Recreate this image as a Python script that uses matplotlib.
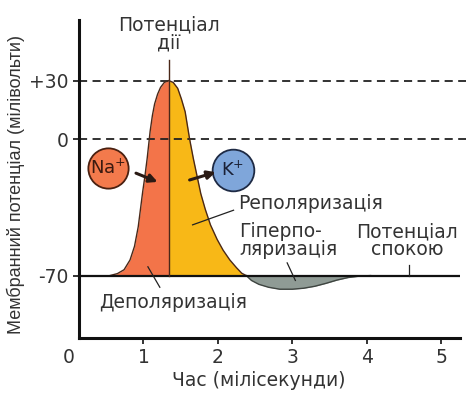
import matplotlib
matplotlib.use("Agg")
import matplotlib.pyplot as plt

plt.rcParams['font.family'] = ['DejaVu Sans']

# membrane potential (mV) vs time (ms), read along the action potential
rise_t = [0.55, 0.65, 0.74, 0.82, 0.88, 0.93, 0.96, 0.99, 1.02, 1.05, 1.09,
          1.12, 1.15, 1.19, 1.23, 1.28, 1.34]
rise_v = [-70, -69, -67, -62, -55, -45, -36, -27, -19, -10, 4,
          12, 18, 23, 26.5, 29, 30]
fall_t = [1.34, 1.40, 1.46, 1.51, 1.56, 1.59, 1.62, 1.67, 1.72, 1.77, 1.83,
          1.90, 1.99, 2.07, 2.16, 2.25, 2.32, 2.38]
fall_v = [30, 29, 26, 20.5, 14, 7, 0, -10, -19, -28, -36,
          -44, -51.5, -57, -62, -66, -68.8, -70]
hyper_t = [2.38, 2.45, 2.55, 2.68, 2.83, 3.00, 3.15, 3.30, 3.45, 3.60, 3.75,
           3.90, 4.05]
hyper_v = [-70, -72.5, -74.5, -76, -77, -77, -76.5, -75.5, -74, -72.3, -71,
           -70.3, -70]

rest_v = -70
peak_v = 30
peak_t = 1.34
x_ticks = [0, 1, 2, 3, 4, 5]
y_ticks = [-70, 0, 30]
y_ticklabels = ['-70', '0', '+30']

text_c = '#333333'
edge_c = '#4a2818'
fs = 13.5

fig = plt.figure(figsize=(4.66, 3.93), dpi=100)
ax = fig.add_axes([0.148, 0.14, 0.839, 0.809])
x0 = 0.13
ax.set_xlim(0, 5.25)
ax.set_ylim(-102, 61)

# dashed reference levels and resting line
ax.plot([x0, 5.35], [peak_v, peak_v], color='#222222', lw=1.3,
        ls=(0, (4.5, 3)), clip_on=False)
ax.plot([x0, 5.35], [0, 0], color='#222222', lw=1.3,
        ls=(0, (4.5, 3)), clip_on=False)

# phases of the action potential
ax.fill_between(rise_t, rise_v, rest_v, color='#f37449', lw=0)
ax.fill_between(fall_t, fall_v, rest_v, color='#f8b817', lw=0)
ax.fill_between(hyper_t, hyper_v, rest_v, color='#8f9b95', lw=0)
ax.plot(rise_t + fall_t[1:], rise_v + fall_v[1:], color=edge_c, lw=1.0)
ax.plot(hyper_t, hyper_v, color='#3e4440', lw=1.0)
ax.plot([x0, 5.25], [rest_v, rest_v], color='#111111', lw=1.6)
ax.plot([peak_t, peak_t], [rest_v, 40.5], color=edge_c, lw=1.0, clip_on=False)

# ion circles with arrows
ax.plot(0.52, -15, 'o', ms=29, mfc='#f37a4c', mec='#4a2010', mew=1.3)
ax.text(0.52, -15, 'Na$^{+}$', ha='center', va='center', fontsize=13,
        color='#3a1a10')
ax.plot(2.20, -16, 'o', ms=30, mfc='#7fa6da', mec='#1e2a44', mew=1.3)
ax.text(2.20, -16, 'K$^{+}$', ha='center', va='center', fontsize=13,
        color='#1a2035')
ax.annotate('', xy=(1.19, -22), xytext=(0.90, -17.5),
            arrowprops=dict(arrowstyle='-|>', color='#2a1a14', lw=2.2,
                            mutation_scale=12, shrinkA=0, shrinkB=0))
ax.annotate('', xy=(1.97, -17), xytext=(1.62, -21),
            arrowprops=dict(arrowstyle='-|>', color='#2a1a14', lw=2.2,
                            mutation_scale=12, shrinkA=0, shrinkB=0))

# labels with leader lines
ax.text(peak_t, 54, 'Потенціал\nдії', ha='center', va='center', fontsize=fs,
        color=text_c, linespacing=0.92, clip_on=False)
ax.text(2.27, -33, 'Реполяризація', ha='left', va='center', fontsize=fs,
        color=text_c)
ax.plot([2.21, 1.66], [-36.5, -44], color='#222222', lw=0.9)
ax.text(2.29, -52, 'Гіперпо-\nляризація', ha='left', va='center',
        fontsize=fs, color=text_c, linespacing=0.92)
ax.plot([2.93, 3.04], [-63.5, -72.5], color='#222222', lw=0.9)
ax.text(4.54, -52, 'Потенціал\nспокою', ha='center', va='center',
        fontsize=fs, color=text_c, linespacing=0.92)
ax.plot([4.56, 4.56], [-64.5, -70], color='#222222', lw=0.9)
ax.text(1.40, -84, 'Деполяризація', ha='center', va='center', fontsize=fs,
        color=text_c)
ax.plot([1.06, 1.22], [-65.5, -76], color='#222222', lw=0.9)

# axes styling
for side in ['top', 'right']:
    ax.spines[side].set_visible(False)
ax.spines['left'].set_position(('data', x0))
ax.spines['bottom'].set_bounds(x0, 5.25)
for side in ['left', 'bottom']:
    ax.spines[side].set_linewidth(2.2)
    ax.spines[side].set_color('#111111')
ax.set_xticks(x_ticks)
ax.set_yticks(y_ticks)
ax.set_yticklabels(y_ticklabels)
ax.tick_params(axis='both', direction='out', length=4, width=1.2,
               colors='#111111', labelcolor=text_c, labelsize=13.5, pad=3)
ax.xaxis.get_major_ticks()[0].tick1line.set_visible(False)

fig.text(0.033, 0.53, 'Мембранний потенціал (мілівольти)', rotation=90,
         ha='center', va='center', fontsize=13, color=text_c,
         family='Liberation Sans')
fig.text(0.555, 0.033, 'Час (мілісекунди)', ha='center', va='center',
         fontsize=fs, color=text_c)

fig.savefig('out.png', dpi=100)
